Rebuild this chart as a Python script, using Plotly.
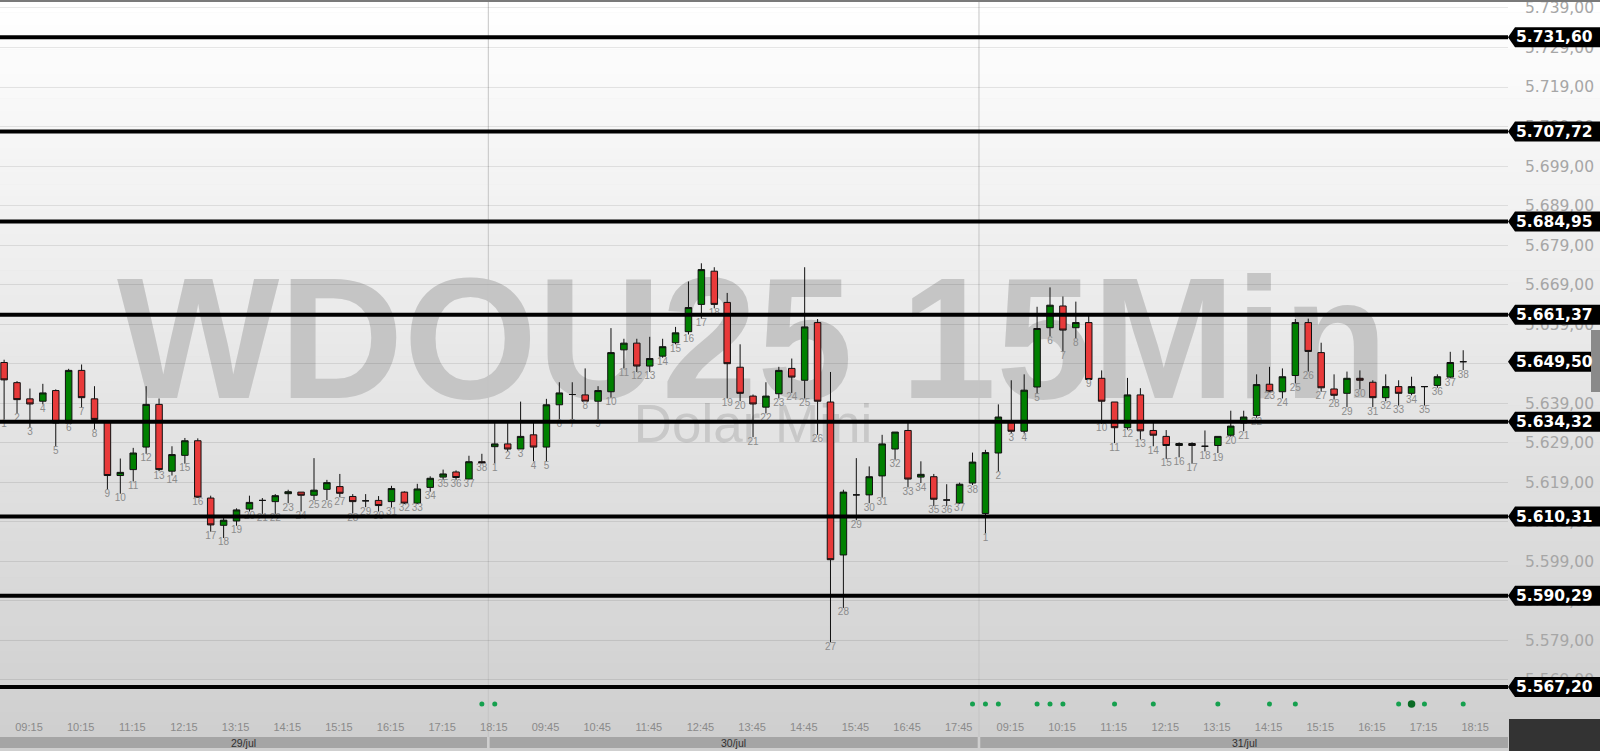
import plotly.graph_objects as go

# ---------------- data (15-min candles, 3 sessions of 38 candles) ----------------
d1_open = [5649.3, 5644.2, 5640.1, 5639.5, 5642.2, 5634.0, 5647.3, 5640.1, 5634.4, 5620.7,
           5622.2, 5627.9, 5638.7, 5621.8, 5625.8, 5629.5, 5615.0, 5608.1, 5609.2, 5612.2,
           5614.4, 5614.1, 5616.1, 5616.5, 5615.7, 5617.2, 5617.9, 5615.4, 5614.3, 5614.4,
           5614.1, 5616.5, 5613.7, 5617.7, 5620.3, 5621.6, 5619.8, 5624.2]
d1_high = [5650.0, 5644.6, 5642.7, 5643.9, 5642.5, 5647.7, 5648.8, 5643.3, 5634.6, 5625.0,
           5627.7, 5643.3, 5640.2, 5628.1, 5630.2, 5630.1, 5615.6, 5610.2, 5612.4, 5615.6,
           5615.0, 5616.0, 5617.1, 5616.5, 5625.1, 5619.6, 5621.1, 5616.0, 5616.0, 5615.5,
           5618.1, 5616.7, 5618.6, 5620.5, 5622.2, 5622.0, 5625.7, 5626.2]
d1_low = [5634.9, 5636.4, 5632.8, 5638.7, 5628.1, 5633.8, 5637.8, 5632.3, 5617.1, 5616.1,
          5619.2, 5626.2, 5621.8, 5620.7, 5623.7, 5615.1, 5606.5, 5604.9, 5608.0, 5611.6,
          5611.0, 5611.0, 5613.7, 5611.6, 5614.5, 5614.5, 5615.2, 5611.1, 5612.7, 5611.6,
          5612.6, 5613.5, 5613.6, 5616.6, 5619.6, 5619.6, 5619.8, 5623.8]
d1_close = [5644.9, 5639.9, 5638.8, 5641.6, 5634.0, 5647.3, 5640.4, 5634.9, 5620.7, 5621.5,
            5626.4, 5638.7, 5622.2, 5626.0, 5629.5, 5615.2, 5608.2, 5609.4, 5612.0, 5613.9,
            5614.4, 5615.6, 5616.6, 5615.7, 5617.0, 5618.9, 5616.2, 5614.1, 5614.3, 5613.1,
            5617.4, 5613.7, 5617.3, 5620.0, 5621.1, 5620.2, 5624.2, 5623.9]

d2_open = [5628.0, 5628.7, 5627.4, 5631.0, 5627.9, 5638.6, 5641.2, 5641.1, 5639.5, 5641.9,
           5652.5, 5654.2, 5648.4, 5650.9, 5654.3, 5657.1, 5664.0, 5672.4, 5664.5, 5648.1,
           5640.8, 5638.0, 5641.4, 5647.8, 5644.8, 5659.4, 5639.3, 5600.6, 5615.8, 5615.8,
           5620.6, 5627.4, 5632.1, 5620.3, 5620.4, 5614.5, 5613.7, 5618.8]
d2_high = [5634.4, 5634.4, 5639.4, 5634.3, 5640.1, 5644.3, 5644.3, 5647.8, 5643.3, 5658.0,
           5655.3, 5655.3, 5655.8, 5655.3, 5658.3, 5669.8, 5674.4, 5673.4, 5666.9, 5653.9,
           5641.2, 5644.3, 5648.2, 5650.3, 5673.4, 5660.3, 5646.9, 5617.1, 5625.1, 5623.0,
           5631.0, 5631.7, 5634.4, 5624.3, 5621.1, 5618.5, 5618.9, 5626.5]
d2_low = [5623.8, 5626.8, 5627.3, 5624.3, 5624.3, 5635.0, 5635.0, 5639.5, 5634.9, 5640.4,
          5647.8, 5646.9, 5646.9, 5650.5, 5653.9, 5656.4, 5660.4, 5663.0, 5640.2, 5639.5,
          5630.4, 5636.4, 5640.2, 5641.6, 5640.2, 5631.0, 5578.5, 5587.2, 5609.4, 5613.7,
          5615.1, 5624.7, 5617.7, 5618.8, 5613.0, 5613.0, 5613.6, 5618.3]
d2_close = [5628.7, 5627.4, 5630.6, 5627.9, 5638.6, 5641.6, 5641.2, 5639.5, 5642.2, 5651.8,
            5654.2, 5648.4, 5650.3, 5653.3, 5656.8, 5663.2, 5672.8, 5664.0, 5649.0, 5641.5,
            5638.8, 5640.8, 5647.3, 5645.6, 5658.3, 5639.5, 5599.4, 5616.5, 5615.8, 5620.4,
            5628.7, 5631.7, 5619.8, 5621.0, 5614.7, 5614.5, 5618.5, 5624.1]

d3_open = [5611.1, 5626.4, 5634.3, 5631.9, 5643.1, 5658.1, 5663.6, 5658.1, 5659.4, 5645.3,
           5639.3, 5632.8, 5641.1, 5632.1, 5630.6, 5628.3, 5628.8, 5628.1, 5628.3, 5630.9,
           5634.0, 5635.9, 5643.8, 5641.9, 5646.0, 5659.4, 5651.8, 5642.6, 5641.5, 5645.3,
           5644.3, 5640.4, 5643.2, 5641.5, 5643.2, 5643.5, 5645.6, 5649.5]
d3_high = [5627.2, 5638.7, 5644.8, 5646.3, 5663.4, 5668.3, 5666.0, 5664.7, 5661.5, 5647.3,
           5639.3, 5645.4, 5642.8, 5634.4, 5632.2, 5629.1, 5629.1, 5632.1, 5630.6, 5637.1,
           5637.1, 5646.3, 5648.2, 5647.8, 5660.3, 5660.4, 5654.3, 5646.3, 5647.0, 5647.3,
           5644.8, 5646.3, 5644.8, 5645.7, 5643.3, 5646.3, 5652.0, 5652.4]
d3_low = [5606.0, 5621.7, 5631.3, 5631.3, 5641.4, 5656.0, 5652.0, 5655.4, 5645.0, 5633.8,
          5628.9, 5632.3, 5629.8, 5628.1, 5624.9, 5625.3, 5623.7, 5626.8, 5626.4, 5630.5,
          5631.9, 5635.3, 5641.9, 5640.2, 5644.0, 5647.0, 5641.9, 5639.9, 5638.0, 5642.5,
          5638.0, 5639.5, 5638.4, 5641.0, 5638.4, 5642.9, 5645.3, 5647.4]
d3_close = [5626.5, 5635.5, 5631.9, 5642.3, 5657.9, 5663.8, 5657.5, 5659.4, 5645.0, 5639.5,
            5632.8, 5641.1, 5632.0, 5630.9, 5628.3, 5628.8, 5628.3, 5628.1, 5630.6, 5633.2,
            5635.5, 5643.7, 5641.9, 5645.7, 5659.4, 5652.1, 5642.9, 5641.0, 5645.3, 5644.8,
            5640.4, 5643.2, 5641.5, 5643.2, 5643.2, 5645.7, 5649.3, 5649.5]

day_labels = ["29/jul", "30/jul", "31/jul"]
time_tick_index = [1, 5, 9, 13, 17, 21, 25, 29, 33, 37,
                   41, 45, 49, 53, 57, 61, 65, 69, 73,
                   77, 81, 85, 89, 93, 97, 101, 105, 109, 113]
time_tick_text = ["09:15", "10:15", "11:15", "12:15", "13:15", "14:15", "15:15", "16:15", "17:15", "18:15",
                  "09:45", "10:45", "11:45", "12:45", "13:45", "14:45", "15:45", "16:45", "17:45",
                  "09:15", "10:15", "11:15", "12:15", "13:15", "14:15", "15:15", "16:15", "17:15", "18:15"]

levels = [5731.60, 5707.72, 5684.95, 5661.37, 5634.32, 5610.31, 5590.29, 5567.20]
signal_dots = [37, 38, 75, 76, 77, 80, 81, 82, 86, 89, 94, 98, 100, 108, 110, 113]
signal_dot_strong = [109]

# ---------------- assemble ----------------
opens = d1_open + d2_open + d3_open
highs = d1_high + d2_high + d3_high
lows = d1_low + d2_low + d3_low
closes = d1_close + d2_close + d3_close
n_day = len(d1_open)
xs = list(range(len(opens)))
candle_no = [str(k) for k in range(1, n_day + 1)] * 3
last_price = closes[-1]


def br(v):
    s = f"{v:,.2f}"
    return s.replace(",", "X").replace(".", ",").replace("X", ".")


W, H = 1600, 751
ML, MR, MT, MB = 0, 92, 0, 34
PW = W - ML - MR
PH = H - MT - MB


def py(Y):  # full-pixel y -> paper y
    return (PH + MT - Y) / PH


def px(X):  # full-pixel x -> paper x
    return (X - ML) / PW


fig = go.Figure()

fig.add_trace(go.Candlestick(
    x=xs, open=opens, high=highs, low=lows, close=closes,
    increasing=dict(fillcolor="#008000", line=dict(color="#111111", width=1)),
    decreasing=dict(fillcolor="#e83a3a", line=dict(color="#111111", width=1)),
    whiskerwidth=0, hoverinfo="skip", showlegend=False,
))

fig.add_trace(go.Scatter(
    x=xs, y=lows, text=candle_no, mode="text", textposition="bottom center",
    textfont=dict(family="Liberation Sans, Arial, sans-serif", size=10, color="#8c8c8c"),
    hoverinfo="skip", showlegend=False, cliponaxis=False,
))

fig.add_trace(go.Scatter(
    x=signal_dots, y=[0.018] * len(signal_dots), yaxis="y2", mode="markers",
    marker=dict(size=5, color="#15a04e"), hoverinfo="skip", showlegend=False,
))
fig.add_trace(go.Scatter(
    x=signal_dot_strong, y=[0.018] * len(signal_dot_strong), yaxis="y2", mode="markers",
    marker=dict(size=7.5, color="#0b6b25"), hoverinfo="skip", showlegend=False,
))

shapes = []
annotations = []

# background gradient (plot + axis panel + time-label strip)
nb = 60
grad_bottom = 737
for b in range(nb):
    Y0 = grad_bottom * b / nb
    Y1 = grad_bottom * (b + 1) / nb
    g = round(255 - (255 - 207) * (b + 0.5) / nb)
    shapes.append(dict(type="rect", xref="paper", yref="paper", x0=0, x1=px(W),
                       y0=py(Y1 + 0.5), y1=py(Y0), line=dict(width=0),
                       fillcolor=f"rgb({g},{g},{g})", layer="below"))
shapes.append(dict(type="rect", xref="paper", yref="paper", x0=0, x1=px(W),
                   y0=py(H), y1=py(grad_bottom), line=dict(width=0),
                   fillcolor="rgb(207,207,207)", layer="below"))

# watermark texts
shapes.append(dict(type="rect", xref="paper", yref="paper", x0=px(100), x1=px(1405),
                   y0=py(390), y1=py(254), line=dict(width=0), fillcolor="rgba(0,0,0,0)",
                   layer="below",
                   label=dict(text="<b>WDOU25 15Min</b>", textposition="middle center",
                              font=dict(family="Liberation Sans, Arial, sans-serif", size=172,
                                        color="#c5c5c5"))))
shapes.append(dict(type="rect", xref="paper", yref="paper", x0=px(600), x1=px(906),
                   y0=py(443), y1=py(393), line=dict(width=0), fillcolor="rgba(0,0,0,0)",
                   layer="below",
                   label=dict(text="Dolar Mini", textposition="middle center",
                              font=dict(family="Liberation Sans, Arial, sans-serif", size=53,
                                        color="#c8c8c8"))))

# day separators + date bar
starts = [0, n_day, 2 * n_day]
for d in range(1, 3):
    sx = starts[d] - 0.5
    shapes.append(dict(type="line", xref="x", yref="paper", x0=sx, x1=sx,
                       y0=py(737), y1=1, line=dict(color="#c4c4c4", width=1), layer="below"))
xmin, xmax = -0.318, 116.47
bounds = [xmin, starts[1] - 0.5, starts[2] - 0.5, xmax]
for d in range(3):
    a = bounds[d] + (0.1 if d > 0 else 0)
    b_ = bounds[d + 1] - (0.1 if d < 2 else 0)
    shapes.append(dict(type="rect", xref="x", yref="paper", x0=a, x1=b_,
                       y0=py(748), y1=py(737), line=dict(width=0), fillcolor="#a5a5a5",
                       layer="above"))
    annotations.append(dict(x=(a + b_) / 2, xref="x", y=py(742.5), yref="paper",
                            text=day_labels[d], showarrow=False,
                            font=dict(family="Liberation Sans Narrow, Liberation Sans, sans-serif",
                                      size=10.5, color="#303030"),
                            xanchor="center", yanchor="middle"))

# dark block bottom right
shapes.append(dict(type="rect", xref="paper", yref="paper", x0=px(1509), x1=px(W),
                   y0=py(H), y1=py(719), line=dict(width=0), fillcolor="#333333", layer="above"))

# top border
shapes.append(dict(type="line", xref="paper", yref="paper", x0=0, x1=px(W), y0=py(1), y1=py(1),
                   line=dict(color="#7a7a7a", width=2), layer="above"))

# level lines + labels
label_path = "M0,0 L7,10 L92,10 L92,-10 L7,-10 Z"
for lv in levels:
    shapes.append(dict(type="line", xref="paper", yref="y", x0=0, x1=1, y0=lv, y1=lv,
                       line=dict(color="#000000", width=4), layer="above"))
for lv in levels + [last_price]:
    shapes.append(dict(type="path", xref="paper", yref="y", xsizemode="pixel", ysizemode="pixel",
                       xanchor=1, yanchor=lv, path=label_path, fillcolor="#000000",
                       line=dict(width=0), layer="above"))
    annotations.append(dict(x=1, xref="paper", y=lv, yref="y", text=br(lv), showarrow=False,
                            xanchor="left", yanchor="middle", xshift=6,
                            font=dict(family="DejaVu Sans, Verdana, sans-serif", size=15.5,
                                      color="#ffffff", weight="bold")))

# scrollbar thumb
shapes.append(dict(type="rect", xref="paper", yref="paper", x0=px(1591), x1=px(W),
                   y0=py(392), y1=py(330), line=dict(width=0), fillcolor="#8a8a8a", layer="above"))

fig.update_layout(
    width=W, height=H,
    margin=dict(l=ML, r=MR, t=MT, b=MB, pad=0),
    paper_bgcolor="#cfcfcf", plot_bgcolor="rgba(0,0,0,0)",
    separators=",.",
    showlegend=False,
    boxgap=0.28,
    shapes=shapes, annotations=annotations,
    xaxis=dict(range=[xmin, xmax], rangeslider=dict(visible=False), showgrid=False,
               zeroline=False, showline=False, ticks="", tickmode="array",
               tickvals=time_tick_index, ticktext=time_tick_text,
               tickfont=dict(family="Liberation Sans Narrow, Liberation Sans, sans-serif",
                             size=11, color="#8a8a8a"),
               ticklabelshift=12, ticklabelstandoff=2, fixedrange=True),
    yaxis=dict(range=[5559.60, 5741.02], side="right", showgrid=True,
               gridcolor="rgba(0,0,0,0.09)", gridwidth=1, zeroline=False, showline=False,
               tick0=5579, dtick=10, tickformat=",.2f", ticks="",
               tickfont=dict(family="DejaVu Sans, Verdana, sans-serif", size=15.5, color="#a6a6a6"),
               ticklabelstandoff=16, ticklabeloverflow="allow", fixedrange=True),
    yaxis2=dict(range=[0, 1], overlaying="y", visible=False, fixedrange=True),
)

fig.write_html("out.html",
               config={"displayModeBar": False},
               post_script="document.body.style.margin='0';document.body.style.padding='0';"
                           "document.body.style.overflow='hidden';")
